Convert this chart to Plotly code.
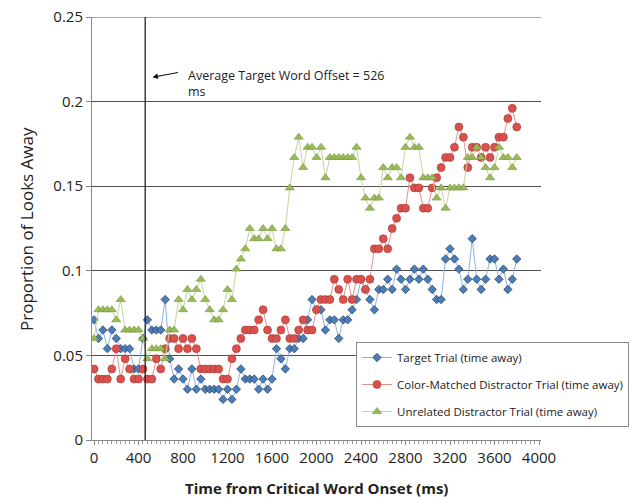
import plotly.graph_objects as go

# Category axis: one sample every 40 ms from 0 to 3800 ms
time_ms = list(range(0, 3840, 40))

target_trial = [
    0.071, 0.060, 0.065, 0.054, 0.065, 0.060, 0.054, 0.054, 0.054, 0.042,
    0.042, 0.060, 0.071, 0.065, 0.065, 0.065, 0.083, 0.048, 0.036, 0.042,
    0.036, 0.030, 0.042, 0.030, 0.036, 0.030, 0.030, 0.030, 0.030, 0.024,
    0.030, 0.024, 0.030, 0.042, 0.036, 0.036, 0.036, 0.030, 0.036, 0.030,
    0.036, 0.054, 0.048, 0.042, 0.054, 0.054, 0.060, 0.060, 0.071, 0.083,
    0.077, 0.077, 0.065, 0.071, 0.071, 0.060, 0.071, 0.071, 0.077, 0.083,
    0.095, 0.089, 0.083, 0.077, 0.089, 0.089, 0.095, 0.089, 0.101, 0.095,
    0.089, 0.095, 0.101, 0.095, 0.101, 0.095, 0.089, 0.083, 0.083, 0.107,
    0.113, 0.107, 0.101, 0.089, 0.095, 0.119, 0.095, 0.089, 0.095, 0.107,
    0.107, 0.095, 0.101, 0.089, 0.095, 0.107,
]

color_matched = [
    0.042, 0.036, 0.036, 0.036, 0.042, 0.054, 0.036, 0.048, 0.042, 0.036,
    0.036, 0.042, 0.036, 0.036, 0.048, 0.042, 0.054, 0.060, 0.060, 0.054,
    0.060, 0.054, 0.060, 0.054, 0.042, 0.042, 0.042, 0.042, 0.042, 0.036,
    0.036, 0.048, 0.054, 0.060, 0.065, 0.065, 0.065, 0.071, 0.077, 0.065,
    0.060, 0.060, 0.065, 0.071, 0.060, 0.060, 0.065, 0.071, 0.065, 0.065,
    0.077, 0.083, 0.083, 0.083, 0.095, 0.089, 0.083, 0.095, 0.083, 0.095,
    0.095, 0.089, 0.095, 0.113, 0.113, 0.119, 0.113, 0.125, 0.131, 0.137,
    0.137, 0.155, 0.149, 0.149, 0.137, 0.137, 0.149, 0.155, 0.161, 0.167,
    0.167, 0.173, 0.185, 0.179, 0.161, 0.173, 0.173, 0.167, 0.173, 0.167,
    0.173, 0.179, 0.179, 0.190, 0.196, 0.185,
]

unrelated = [
    0.060, 0.077, 0.077, 0.077, 0.077, 0.071, 0.083, 0.065, 0.065, 0.065,
    0.065, 0.060, 0.048, 0.054, 0.054, 0.054, 0.048, 0.065, 0.065, 0.083,
    0.077, 0.089, 0.083, 0.089, 0.095, 0.083, 0.077, 0.071, 0.071, 0.077,
    0.089, 0.083, 0.101, 0.107, 0.113, 0.125, 0.119, 0.119, 0.125, 0.119,
    0.125, 0.113, 0.113, 0.125, 0.149, 0.167, 0.179, 0.161, 0.173, 0.173,
    0.167, 0.173, 0.155, 0.167, 0.167, 0.167, 0.167, 0.167, 0.167, 0.173,
    0.155, 0.143, 0.137, 0.143, 0.143, 0.161, 0.155, 0.161, 0.161, 0.155,
    0.173, 0.179, 0.173, 0.173, 0.155, 0.155, 0.155, 0.143, 0.149, 0.137,
    0.149, 0.149, 0.149, 0.149, 0.167, 0.167, 0.173, 0.167, 0.161, 0.155,
    0.161, 0.173, 0.167, 0.167, 0.161, 0.167,
]

series_names = [
    "Target Trial (time away)",
    "Color-Matched Distractor Trial (time away)",
    "Unrelated Distractor Trial (time away)",
]

x_tick_vals = [0, 400, 800, 1200, 1600, 2000, 2400, 2800, 3200, 3600, 4000]
y_tick_vals = [0, 0.05, 0.1, 0.15, 0.2, 0.25]
y_tick_text = ["0", "0.05", "0.1", "0.15", "0.2", "0.25"]

offset_line_ms = 460       # drawn position of the vertical reference line
target_offset_ms = 526     # value named in the annotation
arrow_y = 0.2144
note_text = "Average Target Word Offset = 526<br>ms"

FONT = "Open Sans"
FIG_W, FIG_H = 635, 499
GRID = "#505050"

fig = go.Figure()

styles = [
    dict(symbol="diamond", size=6.5, color="#4A7EBB", mline="#1B2C45", line="#8DB3E2"),
    dict(symbol="circle", size=8, color="#D9504C", mline="#A33A38", line="#E6908E"),
    dict(symbol="triangle-up", size=8, color="#9BBB59", mline="#76933C", line="#C3D69B"),
]
for name, vals, st in zip(series_names, [target_trial, color_matched, unrelated], styles):
    fig.add_trace(go.Scatter(
        x=time_ms, y=vals, name=name, mode="lines+markers",
        legendgroup=name,
        line=dict(color=st["line"], width=1),
        marker=dict(symbol=st["symbol"], size=st["size"], color=st["color"],
                    line=dict(color=st["mline"], width=0.6)),
    ))

# top gridline (plotly omits the grid line at the range edge)
fig.add_shape(type="line", xref="paper", yref="y",
              x0=-0.011, x1=1, y0=y_tick_vals[-1], y1=y_tick_vals[-1],
              line=dict(color=GRID, width=1.2), layer="below")

fig.add_shape(type="line", xref="x", yref="paper",
              x0=offset_line_ms, x1=offset_line_ms, y0=0, y1=1,
              line=dict(color="#111", width=1.2))

# arrow
fig.add_annotation(x=target_offset_ms, y=arrow_y, xref="x", yref="y",
                   text="", showarrow=True, ax=27, ay=-5,
                   arrowhead=2, arrowsize=0.9, arrowwidth=1.2, arrowcolor="#111")
# note text
fig.add_annotation(x=827, y=arrow_y, xref="x", yref="y",
                   text=note_text, showarrow=False, xanchor="left", yanchor="middle",
                   align="left", font=dict(family=FONT, size=12.5, color="#222"),
                   yshift=-6)

# axis titles
fig.add_annotation(x=-0.146, y=0.5, xref="paper", yref="paper",
                   text="Proportion of Looks Away", showarrow=False, textangle=-90,
                   xanchor="center", yanchor="middle",
                   font=dict(family=FONT, size=17, color="#222"))
fig.add_annotation(x=0.5, y=-0.113, xref="paper", yref="paper",
                   text="<b>Time from Critical Word Onset (ms)</b>", showarrow=False,
                   xanchor="center", yanchor="middle",
                   font=dict(family=FONT, size=15, color="#222"))

fig.update_layout(
    width=FIG_W, height=FIG_H,
    margin=dict(l=92, r=94, t=17, b=59, autoexpand=False),
    plot_bgcolor="white", paper_bgcolor="white",
    showlegend=True,
    legend=dict(xref="container", yref="container",
                x=356 / FIG_W, y=1 - 342 / FIG_H,
                xanchor="left", yanchor="top",
                bgcolor="white", bordercolor="#888", borderwidth=1,
                font=dict(family=FONT, size=11.5, color="#222"),
                tracegroupgap=8, traceorder="grouped"),
    xaxis=dict(range=[-18, 4018], tickmode="array", tickvals=x_tick_vals,
               automargin=False,
               showgrid=False, zeroline=False, showline=True, linecolor="#888",
               ticks="outside", ticklen=4, tickcolor="#888",
               minor=dict(dtick=40, tick0=0, ticks="outside", ticklen=3, tickcolor="#999"),
               tickfont=dict(family=FONT, size=15, color="#222")),
    yaxis=dict(range=[0, 0.25], tickmode="array", tickvals=y_tick_vals, ticktext=y_tick_text,
               automargin=False, ticklabeloverflow="allow",
               showgrid=True, gridcolor=GRID, gridwidth=1.2,
               zeroline=False, showline=True, linecolor="#888",
               ticks="outside", ticklen=5, tickcolor="#888",
               tickfont=dict(family=FONT, size=15, color="#222")),
)

# remove the browser's default 8px body margin so the figure fills the window
fig.write_html("out.html",
               config={"displayModeBar": False},
               post_script="document.body.style.margin='0';document.body.style.overflow='hidden';")
